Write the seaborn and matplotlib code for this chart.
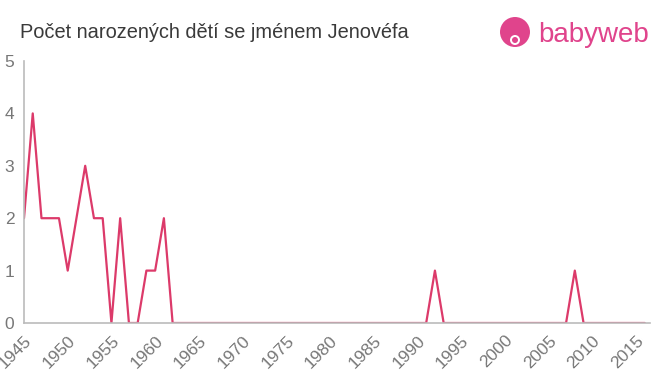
import matplotlib
matplotlib.use("Agg")
import matplotlib.pyplot as plt
import seaborn as sns
import pandas as pd
from matplotlib.patches import Ellipse

years = list(range(1945, 2017))
counts_early = [2, 4, 2, 2, 2, 1, 2, 3, 2, 2, 0, 2, 0, 0, 1, 1, 2, 0]  # 1945-1962
counts = counts_early + [0] * (len(years) - len(counts_early))
counts[years.index(1992)] = 1
counts[years.index(2008)] = 1

x_ticks = list(range(1945, 2020, 5))
y_ticks = [0, 1, 2, 3, 4, 5]
title = "Počet narozených dětí se jménem Jenovéfa"

df = pd.DataFrame({"year": years, "count": counts})

sns.set_style("white")
plt.rcParams['font.family'] = ['Liberation Sans', 'DejaVu Sans']

fig = plt.figure(figsize=(6.6, 3.75), dpi=100)
ax = fig.add_axes([24/660, 1 - 323/375, (650-24)/660, (323-61)/375])
sns.lineplot(data=df, x="year", y="count", ax=ax, color="#dc3a6a", linewidth=1.6)

ax.set_xlim(1945, 2016.6)
ax.set_ylim(0, 5)
ax.set_xticks(x_ticks)
ax.set_xticklabels([str(t) for t in x_ticks], rotation=45, ha="right", rotation_mode="anchor")
ax.set_yticks(y_ticks)
ax.set_xlabel("")
ax.set_ylabel("")
for s in ["top", "right"]:
    ax.spines[s].set_visible(False)
for s in ["left", "bottom"]:
    ax.spines[s].set_color("#bbbbbb")
    ax.spines[s].set_linewidth(1.2)
ax.tick_params(axis="both", colors="#bbbbbb", labelcolor="#777777", labelsize=12.5, length=4, width=1)
ax.tick_params(axis="y", length=5, pad=2)
ax.tick_params(axis="x", pad=3)
ax.grid(False)

fig.text(20/660, 1 - 32/375, title, fontsize=14.4, color="#3a3a3a", va="center", ha="left")

# logo
logo_color = "#e0448c"
fig.patches.append(Ellipse((515/660, 1 - 32/375), 30/660, 30/375, transform=fig.transFigure,
                           facecolor=logo_color, edgecolor="none"))
fig.patches.append(Ellipse((515/660, 1 - 40/375), 10/660, 10/375, transform=fig.transFigure,
                           facecolor="white", edgecolor="none"))
fig.patches.append(Ellipse((515/660, 1 - 40/375), 6/660, 6/375, transform=fig.transFigure,
                           facecolor=logo_color, edgecolor="none"))
fig.text(538/660, 1 - 35/375, "babyweb", fontsize=20, color=logo_color, va="center", ha="left")

fig.savefig("out.png", dpi=100)
